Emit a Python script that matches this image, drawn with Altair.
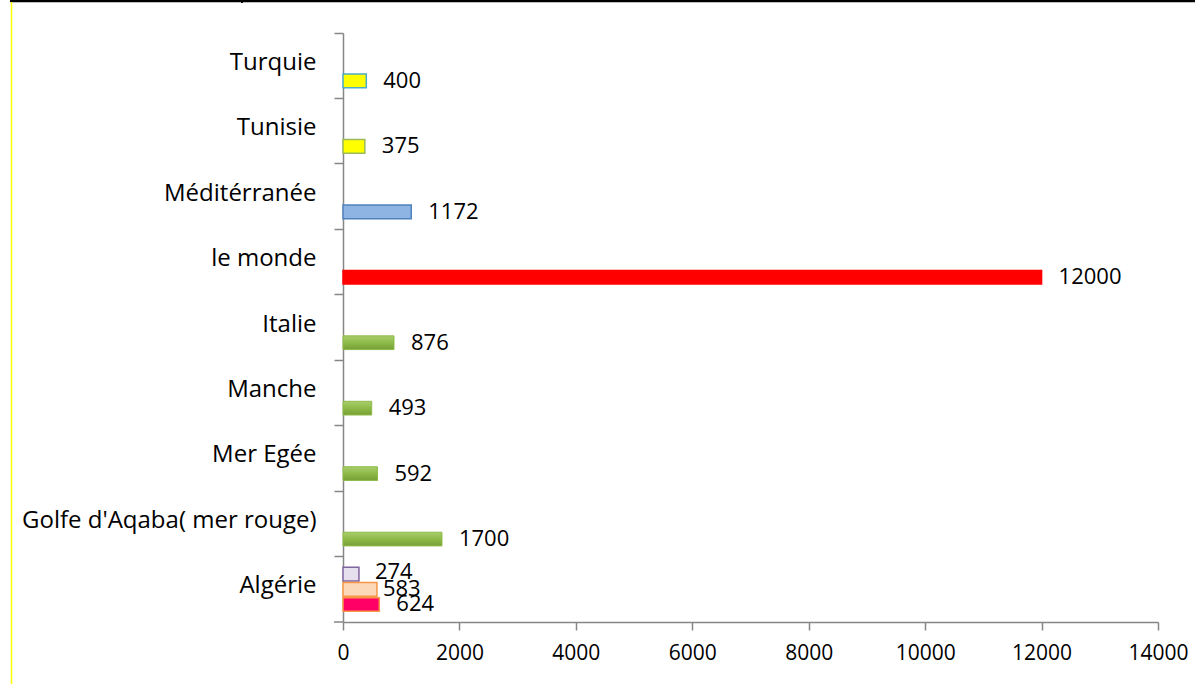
import altair as alt
import pandas as pd

# Categories, top to bottom
categories = ["Turquie", "Tunisie", "Méditérranée", "le monde", "Italie",
              "Manche", "Mer Egée", "Golfe d'Aqaba( mer rouge)", "Algérie"]

# One row per bar: category, series slot, value, colours
bar_cat = ["Turquie", "Tunisie", "Méditérranée", "le monde", "Italie",
           "Manche", "Mer Egée", "Golfe d'Aqaba( mer rouge)",
           "Algérie", "Algérie", "Algérie"]
bar_slot = ["c", "c", "c", "c", "c", "c", "c", "c", "a", "b", "c"]
bar_value = [400, 375, 1172, 12000, 876, 493, 592, 1700, 274, 583, 624]
bar_fill = ["#FFFF00", "#FFFF00", "#8EB4E3", "#FF0000", "green",
            "green", "green", "green", "#E5DFEE", "#FCD7B8", "#FF0066"]
bar_stroke = ["#4BACC6", "#9BBB59", "#4F81BD", "#FF0000", "#8DBA48",
              "#8DBA48", "#8DBA48", "#8DBA48", "#8064A2", "#F79646", "#F79646"]
# horizontal gap between bar end and its value label
label_gap = [17, 17, 17, 17, 17, 17, 17, 17, 16, 6, 17]

x_ticks = [0, 2000, 4000, 6000, 8000, 10000, 12000, 14000]

df = pd.DataFrame({
    "cat": bar_cat, "slot": bar_slot, "value": bar_value,
    "fill": bar_fill, "stroke": bar_stroke, "gap": label_gap,
})

W, H = 815, 589
FONT = "Open Sans"
AXIS_GREY = "#868686"

x_enc = alt.X("value:Q",
              scale=alt.Scale(domain=[0, 14000], nice=False, zero=True),
              axis=alt.Axis(title=None, values=x_ticks, format="d", grid=False,
                            domainColor=AXIS_GREY, domainWidth=1.5,
                            tickColor=AXIS_GREY, tickWidth=1.5, tickSize=8,
                            labelFont=FONT, labelFontSize=21, labelColor="#000000",
                            labelPadding=12, labelFlush=False))
y_enc = alt.Y("cat:N", sort=categories,
              scale=alt.Scale(paddingInner=0, paddingOuter=0),
              axis=alt.Axis(title=None, bandPosition=0, labelOffset=-3,
                            domainColor=AXIS_GREY, domainWidth=1.5,
                            tickColor=AXIS_GREY, tickWidth=1.5, tickSize=9,
                            labelFont=FONT, labelFontSize=24, labelColor="#000000",
                            labelPadding=18, labelLimit=400))
yoff_enc = alt.YOffset("slot:N", sort=["a", "b", "c"],
                       scale=alt.Scale(paddingInner=0.1, paddingOuter=0.7))

base = alt.Chart(df)

# flat-coloured bars
bars = base.transform_filter("datum.fill != 'green'").mark_bar(strokeWidth=1.5).encode(
    x=x_enc, y=y_enc, yOffset=yoff_enc,
    fill=alt.Fill("fill:N", scale=None),
    stroke=alt.Stroke("stroke:N", scale=None),
)

# green bars with a top-to-bottom shading
green_shade = alt.Gradient(
    gradient="linear", x1=0, y1=0, x2=0, y2=1,
    stops=[alt.GradientStop(color="#A9CD6C", offset=0),
           alt.GradientStop(color="#8DBA48", offset=0.5),
           alt.GradientStop(color="#779F36", offset=1)],
)
green_bars = base.transform_filter("datum.fill == 'green'").mark_bar(
    color=green_shade, stroke="#8DBA48", strokeWidth=1
).encode(x="value:Q", y=alt.Y("cat:N", sort=categories), yOffset=yoff_enc)


def value_labels(gap, dy=0):
    return base.transform_filter(f"datum.gap == {gap}").mark_text(
        align="left", baseline="middle", dx=gap, dy=dy,
        font=FONT, fontSize=22, color="#000000"
    ).encode(x="value:Q", y=alt.Y("cat:N", sort=categories), yOffset=yoff_enc,
             text="value:Q")


labels_main = value_labels(17)
labels_16 = value_labels(16, dy=-2)
labels_6 = value_labels(6)

one = alt.Chart(pd.DataFrame({"k": [0]}))

# closing tick at the bottom of the category axis
bottom_tick = one.mark_rule(color=AXIS_GREY, strokeWidth=1.5).encode(
    x=alt.value(-9), x2=alt.value(0), y=alt.value(H))

# page frame: black rule along the top, yellow rule down the left
top_rule = one.mark_rule(color="#000000", strokeWidth=2.5).encode(
    x=alt.value(-333), x2=alt.value(W + 40), y=alt.value(-32))
top_notch = one.mark_rule(color="#000000", strokeWidth=2).encode(
    x=alt.value(-101), y=alt.value(-33), y2=alt.value(-30))
left_rule = one.mark_rule(color="#FFFF00", strokeWidth=1.5).encode(
    x=alt.value(-331.5), y=alt.value(-31), y2=alt.value(H + 70))

chart = alt.layer(
    bars, green_bars, labels_main, labels_16, labels_6,
    bottom_tick, top_rule, top_notch, left_rule
).properties(
    width=W, height=H,
    autosize=alt.AutoSizeParams(type="none"),
    padding={"left": 343, "top": 33, "right": 37, "bottom": 62},
    background="#FFFFFF",
).configure_view(stroke=None)

chart.save("out.html", embed_options={"renderer": "svg", "actions": False})
